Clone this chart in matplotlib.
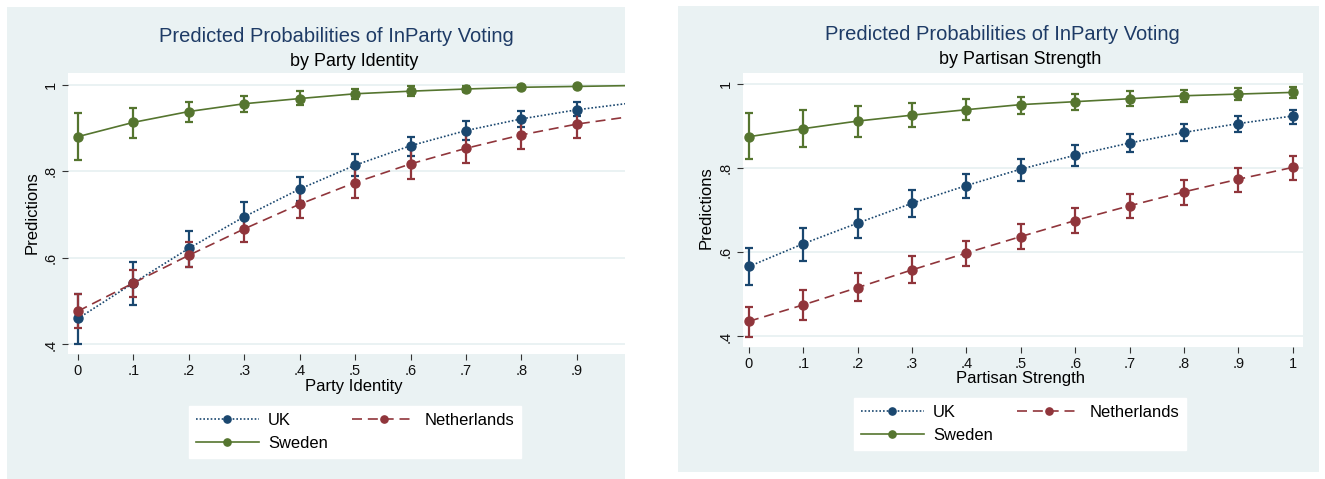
import matplotlib
matplotlib.use("Agg")
import matplotlib.pyplot as plt
from matplotlib.patches import Rectangle

# Predicted probabilities (with 95% CI bounds) by country
steps = [0, .1, .2, .3, .4, .5, .6, .7, .8, .9, 1]

# Panel 1: by party identity
pid_uk = [0.460, 0.542, 0.622, 0.695, 0.759, 0.814, 0.859, 0.894, 0.921, 0.942, 0.958]
pid_uk_lo = [0.402, 0.492, 0.580, 0.661, 0.731, 0.788, 0.836, 0.873, 0.903, 0.927, 0.945]
pid_uk_hi = [0.516, 0.590, 0.662, 0.728, 0.787, 0.839, 0.880, 0.915, 0.940, 0.959, 0.971]
pid_nl = [0.477, 0.542, 0.606, 0.667, 0.724, 0.774, 0.817, 0.853, 0.884, 0.909, 0.927]
pid_nl_lo = [0.438, 0.510, 0.578, 0.637, 0.691, 0.739, 0.782, 0.818, 0.851, 0.878, 0.900]
pid_nl_hi = [0.516, 0.572, 0.637, 0.697, 0.756, 0.808, 0.852, 0.888, 0.917, 0.940, 0.955]
pid_se = [0.880, 0.913, 0.938, 0.956, 0.968, 0.979, 0.985, 0.990, 0.994, 0.996, 0.998]
pid_se_lo = [0.826, 0.877, 0.914, 0.936, 0.953, 0.966, 0.973, 0.982, 0.989, 0.993, 0.996]
pid_se_hi = [0.934, 0.947, 0.961, 0.975, 0.985, 0.991, 0.996, 0.998, 0.999, 0.999, 1.000]

# Panel 2: by partisan strength
ps_uk = [0.566, 0.620, 0.669, 0.716, 0.758, 0.797, 0.830, 0.859, 0.884, 0.905, 0.923]
ps_uk_lo = [0.522, 0.579, 0.634, 0.684, 0.729, 0.769, 0.804, 0.837, 0.863, 0.885, 0.905]
ps_uk_hi = [0.609, 0.657, 0.703, 0.747, 0.786, 0.822, 0.855, 0.881, 0.904, 0.923, 0.938]
ps_nl = [0.436, 0.475, 0.516, 0.558, 0.598, 0.637, 0.675, 0.710, 0.743, 0.773, 0.801]
ps_nl_lo = [0.399, 0.440, 0.483, 0.527, 0.566, 0.607, 0.645, 0.680, 0.712, 0.743, 0.771]
ps_nl_hi = [0.471, 0.511, 0.550, 0.590, 0.627, 0.667, 0.704, 0.737, 0.771, 0.800, 0.829]
ps_se = [0.874, 0.893, 0.911, 0.925, 0.938, 0.950, 0.957, 0.964, 0.971, 0.975, 0.979]
ps_se_lo = [0.820, 0.850, 0.874, 0.896, 0.913, 0.927, 0.937, 0.946, 0.956, 0.960, 0.966]
ps_se_hi = [0.930, 0.938, 0.946, 0.955, 0.963, 0.968, 0.975, 0.982, 0.985, 0.990, 0.992]

x_ticks = [0, .1, .2, .3, .4, .5, .6, .7, .8, .9, 1]
x_ticklabels = ["0", ".1", ".2", ".3", ".4", ".5", ".6", ".7", ".8", ".9", "1"]
y_ticks = [.4, .6, .8, 1]
y_ticklabels = [".4", ".6", ".8", "1"]

# Stata s2color scheme
NAVY = "#1a476f"
MAROON = "#90353b"
GREEN = "#55752f"
BG = "#eaf2f3"
TITLE = "#1e3b66"

plt.rcParams["font.family"] = ["Liberation Sans"]

W, H = 1325, 479
fig = plt.figure(figsize=(W / 100, H / 100), dpi=100, facecolor="white")


def px_box(x0, y0, x1, y1):
    # pixel box (top-left origin) -> figure fraction rect
    return [x0 / W, 1 - y1 / H, (x1 - x0) / W, (y1 - y0) / H]


def draw_series(ax, x, y, lo, hi, color, ls, label):
    yerr = [[v - l for v, l in zip(y, lo)], [h - v for v, h in zip(y, hi)]]
    ax.errorbar(x, y, yerr=yerr, fmt="none", ecolor=color, elinewidth=1.6,
                capsize=3, capthick=1.6, zorder=3)
    line, = ax.plot(x, y, color=color, linestyle=ls, linewidth=1.2, marker="o",
                    markersize=6.5, label=label, zorder=4)
    return line


def panel(rect, bg_rect, data, xlim, ylim, title_xy, sub_xy, subtitle,
          xlab_xy, ylab_xy, xlabel, leg_xy, show_last_tick):
    x0, y0, x1, y1 = bg_rect
    fig.patches.append(Rectangle((x0 / W, 1 - y1 / H), (x1 - x0) / W, (y1 - y0) / H,
                                 transform=fig.transFigure, facecolor=BG,
                                 edgecolor="none", zorder=-5))
    ax = fig.add_axes(px_box(*rect))
    ax.set_facecolor("white")
    for s in ax.spines.values():
        s.set_visible(False)
    ax.set_xlim(*xlim)
    ax.set_ylim(*ylim)
    ax.set_yticks(y_ticks)
    ax.set_yticklabels(y_ticklabels, rotation=90, va="center")
    if show_last_tick:
        ax.set_xticks(x_ticks)
        ax.set_xticklabels(x_ticklabels)
    else:
        ax.set_xticks(x_ticks[:-1])
        ax.set_xticklabels(x_ticklabels[:-1])
    ax.tick_params(axis="both", direction="out", length=4.5, width=0.8,
                   color="#333333", labelsize=10.5, labelcolor="#111111", pad=3)
    ax.grid(axis="y", color=BG, linewidth=1.4)
    ax.set_axisbelow(True)

    uk, nl, se = data
    h_uk = draw_series(ax, steps, *uk, NAVY, (0, (1, 1.2)), "UK")
    h_nl = draw_series(ax, steps, *nl, MAROON, (0, (6, 3.5)), "Netherlands")
    h_se = draw_series(ax, steps, *se, GREEN, "-", "Sweden")

    fig.text(title_xy[0] / W, 1 - title_xy[1] / H,
             "Predicted Probabilities of InParty Voting",
             ha="center", va="center", fontsize=14.5, color=TITLE)
    fig.text(sub_xy[0] / W, 1 - sub_xy[1] / H, subtitle,
             ha="center", va="center", fontsize=12.9, color="black")
    fig.text(xlab_xy[0] / W, 1 - xlab_xy[1] / H, xlabel,
             ha="center", va="center", fontsize=12, color="black")
    fig.text(ylab_xy[0] / W, 1 - ylab_xy[1] / H, "Predictions", rotation=90,
             ha="center", va="center", fontsize=12, color="black")

    # legend is filled column by column, so this order gives UK / Netherlands on row one
    leg = ax.legend([h_uk, h_se, h_nl], ["UK", "Sweden", "Netherlands"],
                    loc="center", bbox_to_anchor=(leg_xy[0] / W, 1 - leg_xy[1] / H),
                    bbox_transform=fig.transFigure, ncol=2, frameon=True,
                    fancybox=False, fontsize=11.9, handlelength=3.8,
                    handletextpad=0.55, columnspacing=1.5, borderpad=0.4,
                    labelspacing=0.5, markerscale=0.8)
    leg.get_frame().set_facecolor("white")
    leg.get_frame().set_edgecolor("white")
    leg.get_frame().set_alpha(1)
    return ax


panel((68, 73, 625, 354), (7, 7, 625, 479),
      ((pid_uk, pid_uk_lo, pid_uk_hi), (pid_nl, pid_nl_lo, pid_nl_hi),
       (pid_se, pid_se_lo, pid_se_hi)),
      (-0.018, 0.987), (0.378, 1.027),
      (336, 37), (354, 61), "by Party Identity",
      (354, 387), (32, 213), "Party Identity", (355, 432), False)

panel((743, 73, 1303, 347), (678, 6, 1319, 472),
      ((ps_uk, ps_uk_lo, ps_uk_hi), (ps_nl, ps_nl_lo, ps_nl_hi),
       (ps_se, ps_se_lo, ps_se_hi)),
      (-0.011, 1.019), (0.375, 1.025),
      (1002, 35), (1020, 59), "by Partisan Strength",
      (1020, 379), (706, 208), "Partisan Strength", (1020, 424), True)

fig.savefig("out.png", dpi=100, facecolor="white")
